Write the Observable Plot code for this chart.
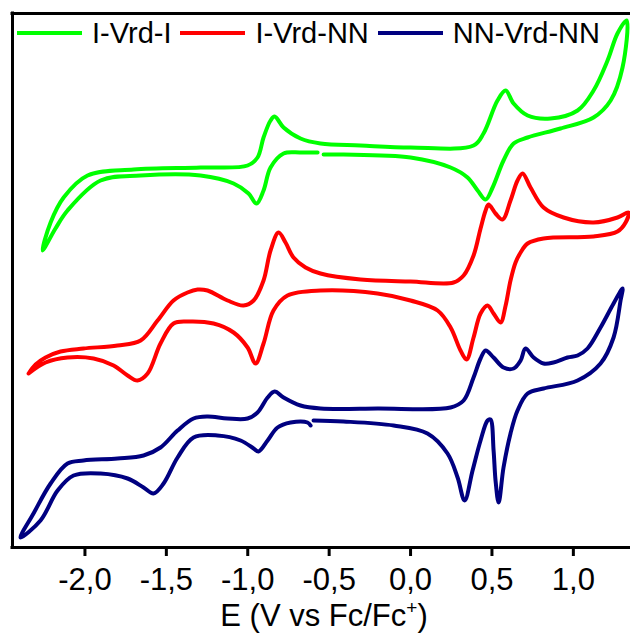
<!DOCTYPE html>
<html>
<head>
<meta charset="utf-8">
<script src="https://cdn.jsdelivr.net/npm/d3@7"></script>
<script src="https://cdn.jsdelivr.net/npm/@observablehq/plot@0.6"></script>
<style>
  html, body { margin: 0; padding: 0; background: #fff; }
  #wrap { position: relative; width: 630px; height: 634px; overflow: hidden; font-family: "Liberation Sans", Arial, sans-serif; }
  #legend { position: absolute; top: 17px; left: 17px; height: 32px; display: flex; align-items: center; font-size: 29px; line-height: 32px; color: #000; white-space: nowrap; }
  .sw { width: 65px; height: 4px; margin-right: 10px; }
  .lab { margin-right: 9px; }
</style>
</head>
<body>
<div id="wrap"><div id="legend"></div></div>
<script>
// Series names and colours
const seriesNames = ["I-Vrd-I", "I-Vrd-NN", "NN-Vrd-NN"];
const seriesColors = ["#00ff00", "#ff0000", "#000080"];

// I-Vrd-I : potential (V vs Fc/Fc+) and current (arbitrary units), in scan order
const greenE = [-0.534,-0.412,0,0.246,0.350,0.412,0.461,0.504,0.571,0.633,0.719,0.921,1.124,1.229,1.302,1.327,
  1.271,1.210,1.124,1.026,0.860,0.719,0.633,0.584,0.534,0.448,0.387,0,-0.307,-0.553,-0.676,-0.780,-0.835,-0.860,
  -0.903,-0.940,-1.001,-1.290,-1.701,-1.984,-2.131,-2.211,-2.260,-2.181,-2.107,-1.904,-1.658,-1.290,-1.087,-0.995,
  -0.946,-0.903,-0.860,-0.780,-0.676,-0.571];
const greenI = [39.3,39.3,39.0,38.0,37.0,35.7,34.8,36.0,38.7,40.4,41.0,41.9,43.0,44.7,48.0,52.7,
  51.4,48.7,45.7,43.7,42.9,43.2,44.4,45.7,44.7,41.4,40.2,40.0,40.2,40.4,40.9,42.0,43.1,42.7,
  41.0,39.0,38.2,38.0,37.8,37.2,35.0,32.5,29.7,31.9,33.7,36.7,37.2,37.2,36.4,35.4,
  34.4,35.7,38.0,39.4,39.5,39.5];

// I-Vrd-NN
const redE = [-2.346,-2.303,-2.242,-2.150,-2.009,-1.800,-1.658,-1.554,-1.456,-1.370,-1.308,-1.247,-1.124,-1.026,
  -0.964,-0.903,-0.860,-0.811,-0.768,-0.719,-0.645,-0.553,-0.307,0,0.264,0.326,0.387,0.430,0.461,0.479,0.522,0.565,
  0.614,0.657,0.688,0.737,0.817,0.940,1.124,1.271,1.339,1.321,1.271,1.124,0.817,0.719,0.676,0.645,0.614,0.584,
  0.553,0.510,0.473,0.430,0.387,0.344,0.307,0.246,0.166,0,-0.203,-0.553,-0.756,-0.842,-0.903,-0.952,-1.001,
  -1.087,-1.210,-1.370,-1.456,-1.536,-1.615,-1.677,-1.738,-1.824,-1.947,-2.107,-2.242,-2.346];
const redI = [17.4,18.3,19.0,19.6,19.9,20.2,20.7,22.7,24.7,25.5,25.8,25.7,24.7,24.2,
  24.7,26.7,29.7,31.5,30.5,29.0,28.0,27.4,26.8,26.6,26.5,27.2,29.2,31.9,33.7,34.3,33.4,32.8,
  34.7,36.7,37.4,36.0,34.0,33.0,32.5,33.0,33.5,32.5,31.6,31.1,30.9,30.4,29.5,28.5,26.7,24.2,
  22.5,23.4,24.2,23.4,21.0,18.8,19.7,22.0,23.7,24.7,25.4,25.7,25.2,23.7,20.4,18.4,20.0,
  21.5,22.4,22.6,22.4,20.4,17.4,16.7,17.2,18.2,18.9,19.0,18.5,17.4];

// NN-Vrd-NN
const blueE = [-0.596,-0.412,-0.104,0.104,0.227,0.289,0.332,0.381,0.430,0.473,0.491,0.510,0.522,0.541,0.571,0.614,
  0.657,0.719,0.817,1.026,1.167,1.247,1.290,1.302,1.247,1.167,1.087,1.026,0.964,0.878,0.817,0.756,0.706,0.676,
  0.633,0.571,0.510,0.461,0.430,0.387,0.326,0.246,-0.203,-0.553,-0.676,-0.780,-0.835,-0.878,-0.940,-1.001,-1.124,
  -1.247,-1.333,-1.431,-1.536,-1.640,-1.800,-2.009,-2.107,-2.211,-2.316,-2.396,-2.273,-2.168,-2.070,-1.904,-1.738,
  -1.640,-1.579,-1.517,-1.431,-1.333,-1.186,-1.044,-0.964,-0.934,-0.878,-0.817,-0.737,-0.633,-0.614];
const blueI = [12.7,12.6,12.2,11.4,9.4,7.0,4.7,7.7,10.7,12.7,12.8,9.7,6.7,4.5,8.0,11.4,
  13.7,15.4,15.9,16.7,18.4,21.0,24.7,25.9,24.4,22.0,19.9,19.2,19.0,18.5,18.4,19.0,19.9,18.7,
  17.9,18.0,19.0,19.7,18.9,17.0,14.7,14.0,13.9,13.9,14.2,15.0,15.6,15.0,13.5,12.9,12.9,
  13.1,12.9,11.7,10.0,9.2,8.9,8.7,8.4,6.4,3.4,1.0,2.7,5.7,7.2,7.4,6.9,
  6.0,5.4,6.4,9.0,11.0,11.2,10.7,9.9,9.6,10.7,12.0,12.5,12.5,12.2];

// Axis
const xDomain = [-2.445, 1.351];
const yDomain = [0, 53.4];
const xTicks = [-2.0, -1.5, -1.0, -0.5, 0.0, 0.5, 1.0];
const xLabel = "E (V vs Fc/Fc";

const toRows = (E, I) => E.map((e, i) => ({E: e, I: I[i]}));
const series = [toRows(greenE, greenI), toRows(redE, redI), toRows(blueE, blueI)];

const plot = Plot.plot({
  width: 630,
  height: 634,
  marginLeft: 12,
  marginRight: 0,
  marginTop: 13,
  marginBottom: 87,
  style: {fontFamily: "'Liberation Sans', Arial, sans-serif", fontSize: "31px", color: "#000", background: "transparent"},
  x: {domain: xDomain},
  y: {domain: yDomain, axis: null},
  marks: [
    ...series.map((rows, k) => Plot.line(rows, {x: "E", y: "I", stroke: seriesColors[k], strokeWidth: 4, curve: "catmull-rom"})),
    Plot.ruleX([xDomain[0]], {stroke: "#000", strokeWidth: 3, strokeLinecap: "square"}),
    Plot.ruleY(yDomain, {stroke: "#000", strokeWidth: 3, strokeLinecap: "square"}),
    Plot.axisX(xTicks, {tickSize: 9, tickPadding: 11, strokeWidth: 3, label: null,
      tickFormat: d => d.toFixed(1).replace(".", ",")})
  ]
});

const wrap = document.getElementById("wrap");
wrap.insertBefore(plot, wrap.firstChild);

// axis title with superscript
const t = d3.select(plot).append("text")
  .attr("x", 324).attr("y", 626)
  .attr("text-anchor", "middle")
  .attr("font-size", 31)
  .attr("fill", "#000");
t.append("tspan").text(xLabel);
t.append("tspan").attr("font-size", 19).attr("dy", -12).text("+");
t.append("tspan").attr("dy", 12).text(")");

// legend
const legend = d3.select("#legend");
seriesNames.forEach((name, k) => {
  legend.append("div").attr("class", "sw").style("background", seriesColors[k]);
  legend.append("div").attr("class", "lab").text(name);
});
</script>
</body>
</html>
